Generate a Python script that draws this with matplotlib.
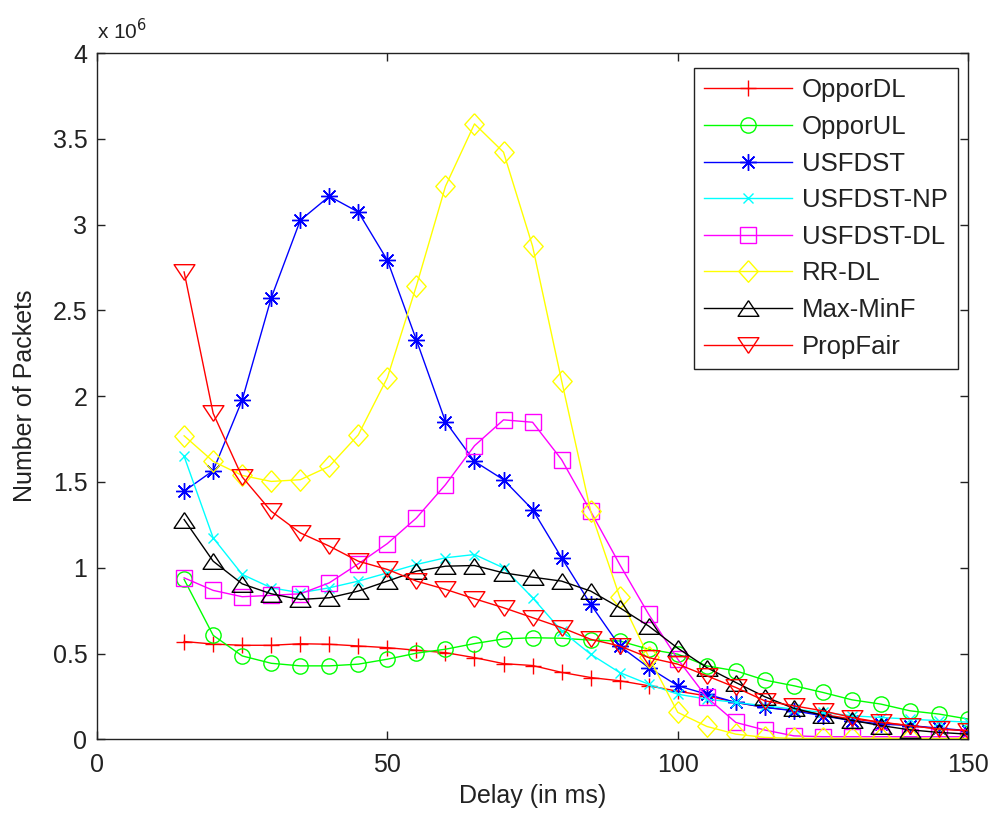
import numpy as np
from matplotlib import pyplot as plt
from matplotlib.ticker import FormatStrFormatter

plt.rcParams['font.family'] = ['Liberation Sans', 'DejaVu Sans']

# delay values (ms) where the markers sit
delay = [15, 20, 25, 30, 35, 40, 45, 50, 55, 60, 65, 70, 75, 80,
         85, 90, 95, 100, 105, 110, 115, 120, 125, 130, 135, 140, 145, 150]

# packet counts, in units of 1e6
oppor_dl = [0.57, 0.555, 0.548, 0.548, 0.557, 0.554, 0.544, 0.534, 0.519, 0.505, 0.476, 0.441, 0.43, 0.39,
            0.36, 0.341, 0.312, 0.28, 0.253, 0.215, 0.186, 0.17, 0.145, 0.118, 0.1, 0.08, 0.06, 0.05]
oppor_ul = [0.932, 0.606, 0.486, 0.443, 0.428, 0.428, 0.438, 0.467, 0.502, 0.525, 0.558, 0.585, 0.592, 0.589,
            0.578, 0.573, 0.525, 0.496, 0.428, 0.399, 0.345, 0.312, 0.273, 0.23, 0.205, 0.166, 0.147, 0.118]
usfdst = [1.446, 1.566, 1.978, 2.573, 3.025, 3.165, 3.073, 2.792, 2.327, 1.852, 1.62, 1.513, 1.339, 1.058,
          0.787, 0.544, 0.418, 0.312, 0.263, 0.215, 0.186, 0.166, 0.137, 0.108, 0.089, 0.08, 0.065, 0.05]
usfdst_np = [1.649, 1.174, 0.961, 0.883, 0.854, 0.883, 0.922, 0.97, 1.019, 1.058, 1.077, 0.999, 0.825, 0.632,
             0.496, 0.389, 0.321, 0.263, 0.234, 0.215, 0.195, 0.176, 0.157, 0.137, 0.127, 0.118, 0.108, 0.1]
usfdst_dl = [0.941, 0.868, 0.831, 0.839, 0.848, 0.912, 1.023, 1.141, 1.29, 1.484, 1.711, 1.862, 1.848, 1.63,
             1.329, 1.019, 0.728, 0.467, 0.244, 0.098, 0.054, 0.02, 0.015, 0.015, 0.015, 0.015, 0.015, 0.015]
rr_dl = [1.769, 1.62, 1.538, 1.503, 1.513, 1.591, 1.775, 2.108, 2.643, 3.223, 3.587, 3.422, 2.874, 2.09,
         1.329, 0.83, 0.48, 0.157, 0.075, 0.03, 0.011, 0.005, 0.005, 0.005, 0.005, 0.005, 0.005, 0.005]
max_minf = [1.281, 1.038, 0.906, 0.848, 0.815, 0.825, 0.864, 0.922, 0.98, 1.009, 1.013, 0.97, 0.945, 0.922,
            0.864, 0.767, 0.66, 0.531, 0.418, 0.331, 0.248, 0.18, 0.14, 0.11, 0.08, 0.055, 0.04, 0.03]
prop_fair = [2.724, 1.9, 1.529, 1.329, 1.203, 1.126, 1.038, 0.99, 0.922, 0.874, 0.819, 0.767, 0.709, 0.651,
             0.583, 0.544, 0.476, 0.438, 0.37, 0.302, 0.224, 0.195, 0.166, 0.127, 0.098, 0.079, 0.06, 0.05]

# matlab-ish marker shapes
diamond = [(0, 1), (0.9, 0), (0, -1), (-0.9, 0), (0, 1)]
tri_up = [(0, 0.75), (1, -0.75), (-1, -0.75), (0, 0.75)]
tri_down = [(0, -0.75), (1, 0.75), (-1, 0.75), (0, -0.75)]
asterisk = (8, 2, 0)

series = [
    ('OpporDL', oppor_dl, '#ff0000', '+', 12),
    ('OpporUL', oppor_ul, '#00ff00', 'o', 11),
    ('USFDST', usfdst, '#0000ff', asterisk, 12),
    ('USFDST-NP', usfdst_np, '#00ffff', 'x', 6.5),
    ('USFDST-DL', usfdst_dl, '#ff00ff', 's', 11.5),
    ('RR-DL', rr_dl, '#ffff00', diamond, 15.5),
    ('Max-MinF', max_minf, '#000000', tri_up, 15),
    ('PropFair', prop_fair, '#ff0000', tri_down, 15),
]

fig = plt.figure(figsize=(9.95, 8.16), dpi=100)
ax = fig.add_axes([0.0975, 0.094, 0.8755, 0.841])

for name, vals, color, marker, ms in series:
    ax.plot(delay, vals, color=color, marker=marker, markersize=ms,
            markerfacecolor='none', markeredgecolor=color, markeredgewidth=1.0,
            linewidth=1.0, label=name)

ax.set_xlim(0, 150)
ax.set_ylim(0, 4)
ax.set_xticks([0, 50, 100, 150])
ax.set_yticks([0, 0.5, 1, 1.5, 2, 2.5, 3, 3.5, 4])
ax.yaxis.set_major_formatter(FormatStrFormatter('%g'))
ax.tick_params(direction='in', top=True, right=True, length=6, width=1,
               labelsize=18, colors='#222222')
ax.tick_params(axis='x', pad=10)
ax.tick_params(axis='y', pad=7)
for sp in ax.spines.values():
    sp.set_linewidth(1.0)
    sp.set_color('#222222')

ax.set_xlabel('Delay (in ms)', fontsize=18, color='#222222', labelpad=5)
ax.set_ylabel('Number of Packets', fontsize=18, color='#222222', labelpad=11)
ax.text(0.0, 1.014, r'x 10$^{6}$', transform=ax.transAxes, fontsize=15,
        color='#222222', ha='left', va='bottom')

leg = ax.legend(loc='upper right', bbox_to_anchor=(0.9885, 0.978), borderaxespad=0,
                fontsize=18.5, handlelength=3.4, labelspacing=0.49, handletextpad=0.4,
                borderpad=0.4, fancybox=False, framealpha=1, edgecolor='#222222')
leg.get_frame().set_linewidth(1.0)
for t in leg.get_texts():
    t.set_color('#222222')

fig.savefig('out.png', dpi=100, facecolor='white')
